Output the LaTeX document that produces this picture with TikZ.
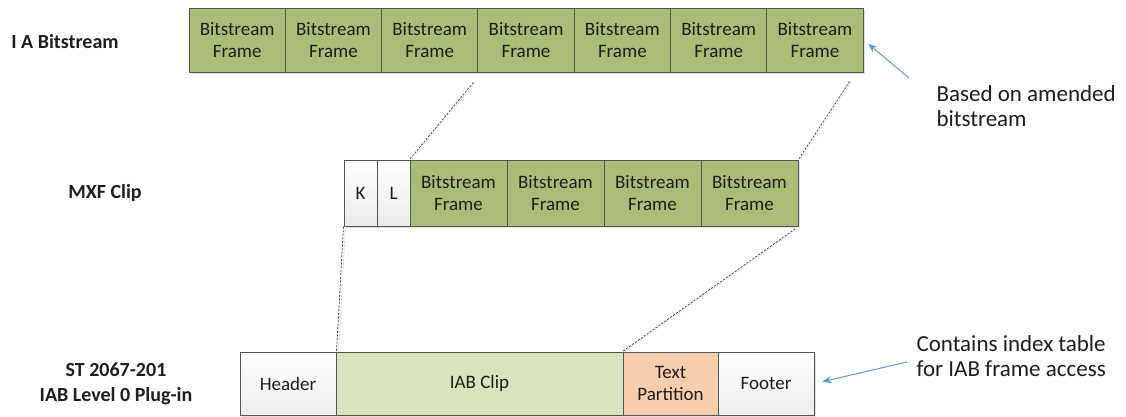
\documentclass[tikz,border=0pt]{standalone}
\usepackage{fontspec}
\setmainfont{Carlito}
\usetikzlibrary{arrows.meta,calc,shadows}

\definecolor{framegreen}{RGB}{170,189,119}
\definecolor{clipgreen}{RGB}{216,228,190}
\definecolor{peach}{RGB}{247,205,172}
\definecolor{edge}{RGB}{85,85,85}
\definecolor{ink}{RGB}{30,30,30}
\definecolor{callblue}{RGB}{91,155,213}

\tikzset{
  cell/.style={draw=edge, line width=1pt, inner sep=0pt, text=ink,
    font=\fontsize{19}{22.5}\selectfont, align=center,
    general shadow={fill=black!12, shadow xshift=2pt, shadow yshift=-2pt}},
  bsframe/.style={cell, fill=framegreen, minimum width=96.3pt, minimum height=64pt},
  mxfframe/.style={cell, fill=framegreen, minimum width=97pt, minimum height=66pt},
  keybox/.style={cell, top color=white, bottom color=black!8, minimum width=33pt, minimum height=66pt},
  partbox/.style={cell, minimum height=63pt},
  rowlabel/.style={font=\bfseries\fontsize{20}{25}\selectfont, text=ink, align=center},
  note/.style={font=\fontsize{23}{25}\selectfont, text=ink, align=left, anchor=west},
  link/.style={draw=black!70, line width=0.8pt, dash pattern=on 2.2pt off 1.4pt,
    preaction={draw=black!15, line width=0.8pt, dash pattern=on 2.2pt off 1.4pt,
      transform canvas={xshift=2pt}}},
  callout/.style={draw=callblue, line width=1pt, -{Stealth[length=9pt,width=7pt]}}
}

\begin{document}
\begin{tikzpicture}[x=1pt,y=-1pt]
\useasboundingbox (0,0) rectangle (1126,416);

% row titles
\node[rowlabel] (lab1) at (65,42) {I A Bitstream};
\node[rowlabel] (lab2) at (105,193) {MXF Clip};
\node[rowlabel] (lab3) at (116,384) {ST 2067-201\\IAB Level 0 Plug-in};

% elementary stream frames
\foreach \i in {1,...,7}
  \node[bsframe] (t\i) at ({189+48.15+96.3*(\i-1)},40) {Bitstream\\Frame};

% MXF clip: key, length, value frames
\node[keybox] (mk) at (360.5,193) {K};
\node[keybox] (ml) at (393.5,193) {L};
\foreach \i in {1,...,4}
  \node[mxfframe] (m\i) at ({410+48.5+97*(\i-1)},193) {Bitstream\\Frame};

% plug-in partitions
\node[partbox, top color=white, bottom color=black!7, minimum width=96pt] (hdr) at (288,383.5) {Header};
\node[partbox, fill=clipgreen, minimum width=287pt] (clip) at (479.5,383.5) {IAB Clip};
\node[partbox, fill=peach, minimum width=95pt] (txt) at (670.5,383.5) {Text\\Partition};
\node[partbox, top color=white, bottom color=black!7, minimum width=96pt] (ftr) at (766,383.5) {Footer};

% expansion guides
\draw[link] ($(t4.south west)+(-4,10)$) -- (m1.north west);
\draw[link] ($(t7.south east)+(-14,9)$) -- (m4.north east);
\draw[link] (mk.south west) -- (hdr.north east);
\draw[link, shorten <=4pt] (m4.south east) -- (txt.north west);

% annotations
\node[note] (n1) at (933,106) {Based on amended\\bitstream};
\node[note] (n2) at (913,356) {Contains index table\\for IAB frame access};
\coordinate (a1) at (909,78);
\coordinate (a2) at (907,362);
\draw[callout, shorten >=6pt] (a1) -- (t7.east);
\draw[callout, shorten >=8pt] (a2) -- (ftr.east);
\end{tikzpicture}
\end{document}
